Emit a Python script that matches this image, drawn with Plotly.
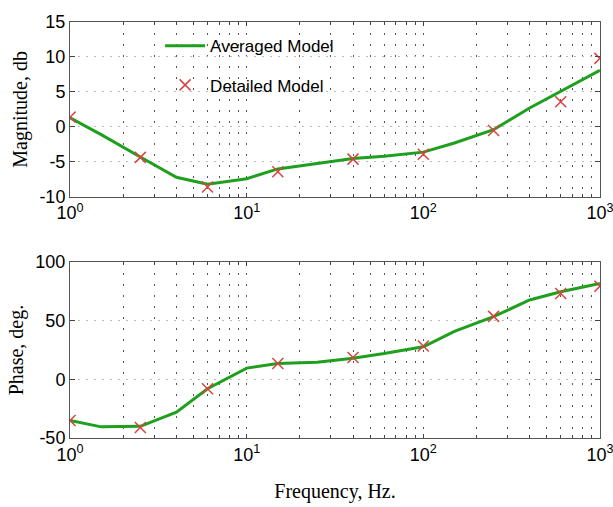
import plotly.graph_objects as go
from plotly.subplots import make_subplots

freq_avg = [1, 1.5, 2.5, 4, 6, 10, 15, 25, 40, 60, 100, 150, 250, 400, 600, 1000]
mag_avg = [1.3, -1.1, -4.3, -7.2, -8.2, -7.4, -6.0, -5.2, -4.5, -4.2, -3.6, -2.3, -0.4, 2.7, 5.1, 8.1]
phase_avg = [-35, -40.5, -40, -28, -8, 9.6, 13.5, 14.5, 18, 22, 27.8, 41, 53.5, 67.7, 74.7, 81.7]

freq_det = [1, 2.5, 6, 15, 40, 100, 250, 600, 1000]
mag_det = [1.4, -4.35, -8.6, -6.4, -4.6, -3.9, -0.5, 3.6, 9.8]
phase_det = [-35, -41, -8, 13.5, 18.6, 28.4, 53.7, 73.3, 79.4]

mag_ticks = [-10, -5, 0, 5, 10, 15]
phase_ticks = [-50, 0, 50, 100]
freq_major = [1, 10, 100, 1000]
freq_major_labels = ["10<sup>0</sup>", "10<sup>1</sup>", "10<sup>2</sup>", "10<sup>3</sup>"]
freq_minor = [d * m for d in [1, 10, 100] for m in range(2, 10)]

GREEN = "#1ea01e"
RED = "#d9433f"

fig = make_subplots(rows=2, cols=1, vertical_spacing=0.0)

fig.add_trace(go.Scatter(x=freq_avg, y=mag_avg, mode="lines", name="Averaged Model",
                         legendgroup="a", line=dict(color=GREEN, width=3)), row=1, col=1)
fig.add_trace(go.Scatter(x=freq_det, y=mag_det, mode="markers", name="Detailed Model",
                         legendgroup="b",
                         marker=dict(symbol="x-thin", size=11, line=dict(color=RED, width=1.5))),
              row=1, col=1)
fig.add_trace(go.Scatter(x=freq_avg, y=phase_avg, mode="lines", showlegend=False,
                         line=dict(color=GREEN, width=3)), row=2, col=1)
fig.add_trace(go.Scatter(x=freq_det, y=phase_det, mode="markers", showlegend=False,
                         marker=dict(symbol="x-thin", size=11, line=dict(color=RED, width=1.5))),
              row=2, col=1)

tickfont = dict(family="Liberation Sans, Arial, sans-serif", size=18, color="black")
titlefont = dict(family="Liberation Serif, Times New Roman, serif", size=20, color="black")

VDOT = "1.5px,9.5px"
for r in [1, 2]:
    fig.update_xaxes(type="log", range=[-0.0005, 3.0005], tickvals=freq_major, ticktext=freq_major_labels,
                     ticklabeloverflow="allow", automargin=False,
                     showgrid=True, gridcolor="#555", griddash=VDOT, gridwidth=1.2,
                     ticks="inside", ticklen=4, tickcolor="#444", mirror="ticks",
                     minor=dict(tickvals=freq_minor, showgrid=True, gridcolor="#555",
                                griddash=VDOT, gridwidth=1.2, ticks="inside", ticklen=3,
                                tickcolor="#444"),
                     showline=True, linecolor="#555", linewidth=1,
                     tickfont=tickfont, zeroline=False, row=r, col=1)

fig.update_yaxes(range=[-10, 15], tickvals=mag_ticks, ticktext=[str(v) for v in mag_ticks],
                 showgrid=True, gridcolor="#bbb", griddash="2px,6px", gridwidth=1,
                 ticks="inside", ticklen=5, tickcolor="#444", mirror="ticks",
                 showline=True, linecolor="#555", linewidth=1, zeroline=False,
                 tickfont=tickfont, title=dict(text="Magnitude, db", font=titlefont, standoff=6),
                 row=1, col=1)
fig.update_yaxes(range=[-50, 100], tickvals=phase_ticks, ticktext=[str(v) for v in phase_ticks],
                 showgrid=True, gridcolor="#bbb", griddash="2px,6px", gridwidth=1,
                 ticks="inside", ticklen=5, tickcolor="#444", mirror="ticks",
                 showline=True, linecolor="#555", linewidth=1, zeroline=False,
                 tickfont=tickfont, title=dict(text="Phase, deg.", font=titlefont, standoff=6),
                 row=2, col=1)
fig.update_xaxes(title=dict(text="Frequency, Hz.", font=titlefont, standoff=20), row=2, col=1)

fig.update_layout(
    width=613, height=507,
    margin=dict(l=70, r=13, t=17, b=69),
    paper_bgcolor="white", plot_bgcolor="white",
    yaxis=dict(domain=[0.5796, 1.0]),
    yaxis2=dict(domain=[0.0, 0.4228]),
    legend=dict(x=0.17, y=0.985, xanchor="left", yanchor="top",
                bgcolor="rgba(0,0,0,0)", borderwidth=0,
                font=dict(family="Liberation Sans, Arial, sans-serif", size=17, color="black"),
                tracegroupgap=14, itemwidth=40),
    showlegend=True,
)

fig.write_html("out.html")
